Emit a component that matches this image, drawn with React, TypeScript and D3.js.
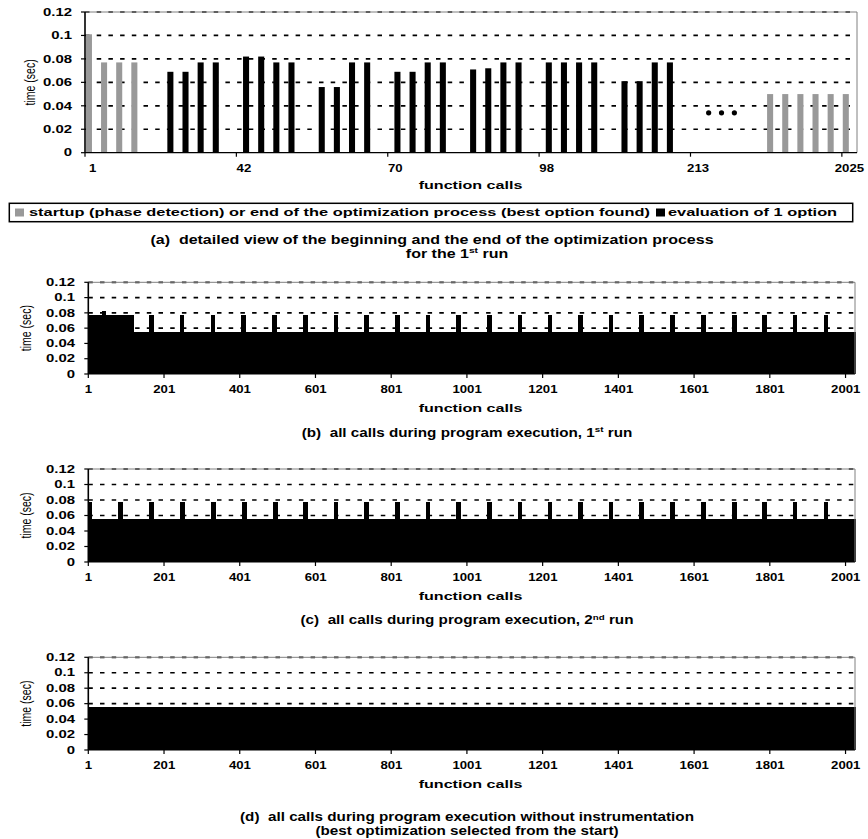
import React from 'react';
import * as d3 from 'd3';

const FONT = "'Liberation Sans', Arial, Helvetica, sans-serif";

// ---------- chart (a): detailed view ----------
const aCategoryCount = 51;
const aTickIdx = [0, 10, 20, 30, 40, 50];
const aTickLabels = ['1', '42', '70', '98', '213', '2025'];
const aGrayIdx = [0, 1, 2, 3, 45, 46, 47, 48, 49, 50];
const aGrayVal = [0.101, 0.077, 0.077, 0.077, 0.05, 0.05, 0.05, 0.05, 0.05, 0.05];
const aBlackIdx = [5, 6, 7, 8, 10, 11, 12, 13, 15, 16, 17, 18, 20, 21, 22, 23, 25, 26, 27, 28, 30, 31, 32, 33, 35, 36, 37, 38];
const aBlackVal = [0.069, 0.069, 0.077, 0.077, 0.082, 0.082, 0.077, 0.077, 0.056, 0.056, 0.077, 0.077, 0.069, 0.069, 0.077, 0.077, 0.071, 0.072, 0.077, 0.077, 0.077, 0.077, 0.077, 0.077, 0.061, 0.061, 0.077, 0.077];
const aEllipsisPos = [41.2, 42.05, 42.9];
const aEllipsisVal = 0.034;

const yTicks = [0, 0.02, 0.04, 0.06, 0.08, 0.1, 0.12];
const yTickLabels = ['0', '0.02', '0.04', '0.06', '0.08', '0.1', '0.12'];
const gridValues = [0.02, 0.04, 0.06, 0.08, 0.1, 0.12];

// ---------- charts (b)(c)(d): all calls ----------
const callCount = 2025;
const callTickIdx = [0, 200, 400, 600, 800, 1000, 1200, 1400, 1600, 1800, 2000];
const callTickLabels = ['1', '201', '401', '601', '801', '1001', '1201', '1401', '1601', '1801', '2001'];

// [first call, last call, time]
const run1Segments: [number, number, number][] = [
  [1, 1, 0.12],
  [2, 120, 0.077],
  [38, 46, 0.082],
];
const run1Base = 0.0545;
const run1Spikes = [167, 247, 329, 410, 492, 573, 654, 735, 816, 897, 978, 1059, 1140, 1219, 1299, 1380, 1461, 1542, 1624, 1706, 1785, 1866, 1948];

const run2Segments: [number, number, number][] = [
  [1, 1, 0.12],
  [2, 9, 0.078],
];
const run2Base = 0.0556;
const run2Spikes = [85, 166, 248, 330, 412, 494, 573, 654, 735, 816, 897, 978, 1059, 1140, 1219, 1299, 1380, 1461, 1542, 1624, 1706, 1785, 1866, 1948];

const run3Segments: [number, number, number][] = [
  [1, 1, 0.12],
];
const run3Base = 0.0553;
const run3Spikes: number[] = [];

const spikeTime = 0.077;
const spikeHalfWidth = 5;

function buildSeries(base: number, segments: [number, number, number][], spikes: number[]) {
  const v: number[] = new Array(callCount).fill(base);
  spikes.forEach((c) => {
    for (let i = c - spikeHalfWidth; i <= c + spikeHalfWidth; i++) if (i >= 1 && i <= callCount) v[i - 1] = spikeTime;
  });
  segments.forEach(([a, b, val]) => {
    for (let i = a; i <= b; i++) v[i - 1] = val;
  });
  return v;
}

const run1Values = buildSeries(run1Base, run1Segments, run1Spikes);
const run2Values = buildSeries(run2Base, run2Segments, run2Spikes);
const run3Values = buildSeries(run3Base, run3Segments, run3Spikes);

const GRAY = '#999999';
const DASH = '4.5,7.2';

function SText({ x, y, sx = 1, size, anchor = 'start', weight = 'bold', rotate, children }: any) {
  const t = `translate(${x},${y}) scale(${sx},1)` + (rotate ? ` rotate(${rotate})` : '');
  return (
    <text transform={t} fontSize={size} fontWeight={weight} textAnchor={anchor} fill="#000" style={{ whiteSpace: 'pre' }}>
      {children}
    </text>
  );
}

const YTICK_SIZE = 10.5;
const YTICK_SX = 1.42;
const XTICK_SIZE = 10;
const XTICK_SX = 1.32;

function Grid({ left, right, y }: any) {
  return (
    <g>
      {gridValues.map((v) => (
        <line key={'g' + v} x1={left} x2={right} y1={y(v)} y2={y(v)} stroke="#000" strokeWidth={1.7} strokeDasharray={DASH} />
      ))}
    </g>
  );
}

function Axes({ left, right, top, bottom, y, yLabelX }: any) {
  return (
    <g>
      <line x1={left} x2={right} y1={top} y2={top} stroke="#808080" strokeWidth={1} />
      <line x1={right} x2={right} y1={top} y2={bottom} stroke="#808080" strokeWidth={1} />
      <line x1={left} x2={right} y1={bottom} y2={bottom} stroke="#000" strokeWidth={1.2} />
      <line x1={left} x2={left} y1={top} y2={bottom} stroke="#000" strokeWidth={1.6} />
      {yTicks.map((v, i) => (
        <g key={'yt' + v}>
          <line x1={left - 4} x2={left} y1={y(v)} y2={y(v)} stroke="#000" strokeWidth={1.2} />
          <SText x={yLabelX} y={y(v) + 3.7} size={YTICK_SIZE} sx={YTICK_SX} anchor="end">
            {yTickLabels[i]}
          </SText>
        </g>
      ))}
    </g>
  );
}

function ChartA() {
  const left = 85, right = 857, top = 12, bottom = 152.7;
  const x = d3.scaleBand<number>().domain(d3.range(aCategoryCount)).range([left, right]).padding(0);
  const y = d3.scaleLinear().domain([0, 0.12]).range([bottom, top]);
  const bw = x.bandwidth();
  return (
    <g>
      <Grid left={left} right={right} y={y} />
      {aGrayIdx.map((k, i) => (
        <rect key={'ga' + k} x={(x(k) as number) + bw * 0.06} width={bw * 0.4} y={y(aGrayVal[i])} height={bottom - y(aGrayVal[i])} fill={GRAY} />
      ))}
      {aBlackIdx.map((k, i) => (
        <rect key={'ba' + k} x={(x(k) as number) + bw * 0.44} width={bw * 0.4} y={y(aBlackVal[i])} height={bottom - y(aBlackVal[i])} fill="#000" />
      ))}
      {aEllipsisPos.map((p) => (
        <circle key={'e' + p} cx={(x(0) as number) + p * x.step()} cy={y(aEllipsisVal)} r={2.6} fill="#000" />
      ))}
      <Axes left={left} right={right} top={top} bottom={bottom} y={y} yLabelX={72} />
      {aTickIdx.map((k, i) => (
        <g key={'xa' + k}>
          <line x1={x(k)} x2={x(k)} y1={bottom} y2={bottom + 4} stroke="#000" strokeWidth={1.2} />
          <SText x={(x(k) as number) + bw / 2} y={172} size={XTICK_SIZE} sx={XTICK_SX} anchor="middle">
            {aTickLabels[i]}
          </SText>
        </g>
      ))}
      <SText x={35} y={(top + bottom) / 2} size={10.5} sx={1.35} anchor="middle" weight="normal" rotate={-90}>
        time (sec)
      </SText>
      <SText x={470.5} y={188.5} size={11.5} sx={1.4} anchor="middle">
        function calls
      </SText>
    </g>
  );
}

function CallsChart({ top, bottom, values }: any) {
  const left = 88.3, right = 855;
  const x = d3.scaleBand<number>().domain(d3.range(callCount)).range([left, right]).padding(0);
  const y = d3.scaleLinear().domain([0, 0.12]).range([bottom, top]);
  const bw = x.bandwidth();
  return (
    <g>
      <Grid left={left} right={right} y={y} />
      <g shapeRendering="crispEdges">
        {values.map((v: number, i: number) => (
          <rect key={i} x={x(i)} width={Math.max(bw + 0.4, 1)} y={y(v)} height={bottom - y(v)} fill="#000" />
        ))}
      </g>
      <Axes left={left} right={right} top={top} bottom={bottom} y={y} yLabelX={75} />
      {callTickIdx.map((k, i) => (
        <g key={'xc' + k}>
          <line x1={x(k)} x2={x(k)} y1={bottom} y2={bottom + 4} stroke="#000" strokeWidth={1.2} />
          <SText x={(x(k) as number) + bw / 2} y={bottom + 19} size={XTICK_SIZE} sx={XTICK_SX} anchor="middle">
            {callTickLabels[i]}
          </SText>
        </g>
      ))}
      <SText x={31} y={(top + bottom) / 2} size={10.5} sx={1.35} anchor="middle" weight="normal" rotate={-90}>
        time (sec)
      </SText>
      <SText x={470.5} y={bottom + 37.8} size={11.5} sx={1.4} anchor="middle">
        function calls
      </SText>
    </g>
  );
}

const CAP_SIZE = 12.5;
const CAP_SX_A = 1.28;
const CAP_SX = 1.22;

function Legend() {
  const sx = 1.49;
  return (
    <g>
      <rect x={9.3} y={203.3} width={843.4} height={18.4} fill="#fff" stroke="#000" strokeWidth={1.5} />
      <rect x={15} y={208.5} width={9} height={8} fill={GRAY} />
      <SText x={29} y={216.3} size={11} sx={sx}>
        startup (phase detection) or end of the optimization process (best option found)
      </SText>
      <rect x={656} y={208.5} width={9} height={8} fill="#000" />
      <SText x={668} y={216.3} size={11} sx={sx}>
        evaluation of 1 option
      </SText>
    </g>
  );
}

export default function App() {
  return (
    <svg width={868} height={839} viewBox="0 0 868 839" style={{ position: 'absolute', left: 0, top: 0, background: '#fff' }} fontFamily={FONT}>
      <rect width={868} height={839} fill="#fff" />
      <ChartA />
      <Legend />
      <SText x={432} y={243.5} size={CAP_SIZE} sx={CAP_SX_A} anchor="middle">
        (a)  detailed view of the beginning and the end of the optimization process
      </SText>
      <SText x={457} y={257.5} size={CAP_SIZE} sx={CAP_SX_A} anchor="middle">
        for the 1<tspan dy={-4.5} fontSize={8}>st</tspan><tspan dy={4.5}> run</tspan>
      </SText>

      <CallsChart top={282.3} bottom={374} values={run1Values} />
      <SText x={467} y={436.5} size={CAP_SIZE} sx={CAP_SX} anchor="middle">
        (b)  all calls during program execution, 1<tspan dy={-4.5} fontSize={8}>st</tspan><tspan dy={4.5}> run</tspan>
      </SText>

      <CallsChart top={469} bottom={562} values={run2Values} />
      <SText x={467} y={624} size={CAP_SIZE} sx={CAP_SX} anchor="middle">
        (c)  all calls during program execution, 2<tspan dy={-4.5} fontSize={8}>nd</tspan><tspan dy={4.5}> run</tspan>
      </SText>

      <CallsChart top={657.3} bottom={750} values={run3Values} />
      <SText x={467} y={821} size={CAP_SIZE} sx={CAP_SX} anchor="middle">
        (d)  all calls during program execution without instrumentation
      </SText>
      <SText x={467} y={834.5} size={CAP_SIZE} sx={CAP_SX} anchor="middle">
        (best optimization selected from the start)
      </SText>
    </svg>
  );
}
